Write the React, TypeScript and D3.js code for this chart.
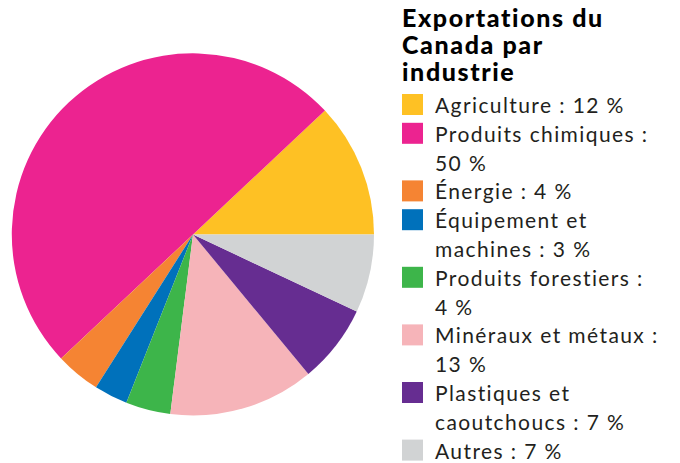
import React from "react";
import * as d3 from "d3";

const categories = [
  "Agriculture",
  "Produits chimiques",
  "Énergie",
  "Équipement et machines",
  "Produits forestiers",
  "Minéraux et métaux",
  "Plastiques et caoutchoucs",
  "Autres",
];
const values = [12, 50, 4, 3, 4, 13, 7, 7];
const colors = ["#FEC124", "#EC2390", "#F58433", "#0071BB", "#3DB54A", "#F6B4B9", "#662D91", "#D1D3D4"];
// legend lines as wrapped in the reference
const legendLines = [
  ["Agriculture : 12 %"],
  ["Produits chimiques :", "50 %"],
  ["Énergie : 4 %"],
  ["Équipement et", "machines : 3 %"],
  ["Produits forestiers :", "4 %"],
  ["Minéraux et métaux :", "13 %"],
  ["Plastiques et", "caoutchoucs : 7 %"],
  ["Autres : 7 %"],
];
const titleLines = ["Exportations du", "Canada par", "industrie"];

export default function App() {
  const W = 680, H = 463;
  const cx = 193, cy = 234.5, r = 181;
  const pie = d3
    .pie<number>()
    .sort(null)
    .startAngle(Math.PI / 2)
    .endAngle(Math.PI / 2 - 2 * Math.PI)(values);
  const arc = d3.arc<d3.PieArcDatum<number>>().innerRadius(0).outerRadius(r);

  const lineH = 28.8;
  const firstBase = 113;
  let lineIdx = 0;
  const legendItems = legendLines.map((lines, i) => {
    const start = lineIdx;
    lineIdx += lines.length;
    return { lines, start, i };
  });

  return (
    <svg
      width={W}
      height={H}
      style={{ position: "absolute", left: 0, top: 0, background: "#fff" }}
    >
      <g transform={`translate(${cx},${cy})`}>
        {pie.map((d, i) => (
          <path key={categories[i]} d={arc(d) || ""} fill={colors[i]} />
        ))}
      </g>
      <g fontFamily="Lato, 'Noto Sans', sans-serif" style={{ fontVariantLigatures: "none" }}>
        {titleLines.map((t, i) => (
          <text
            key={t}
            x={402}
            y={27 + i * 27}
            fontSize={25}
            fontWeight={900}
            letterSpacing={1.6}
            fill="#000"
          >
            {t}
          </text>
        ))}
        {legendItems.map(({ lines, start, i }) => (
          <g key={categories[i]}>
            <rect
              x={402}
              y={firstBase + start * lineH - 19}
              width={21}
              height={21}
              fill={colors[i]}
            />
            {lines.map((l, j) => (
              <text
                key={l}
                x={435}
                y={firstBase + (start + j) * lineH}
                fontSize={21}
                letterSpacing={1.4}
                fill="#231F20"
              >
                {l}
              </text>
            ))}
          </g>
        ))}
      </g>
    </svg>
  );
}
